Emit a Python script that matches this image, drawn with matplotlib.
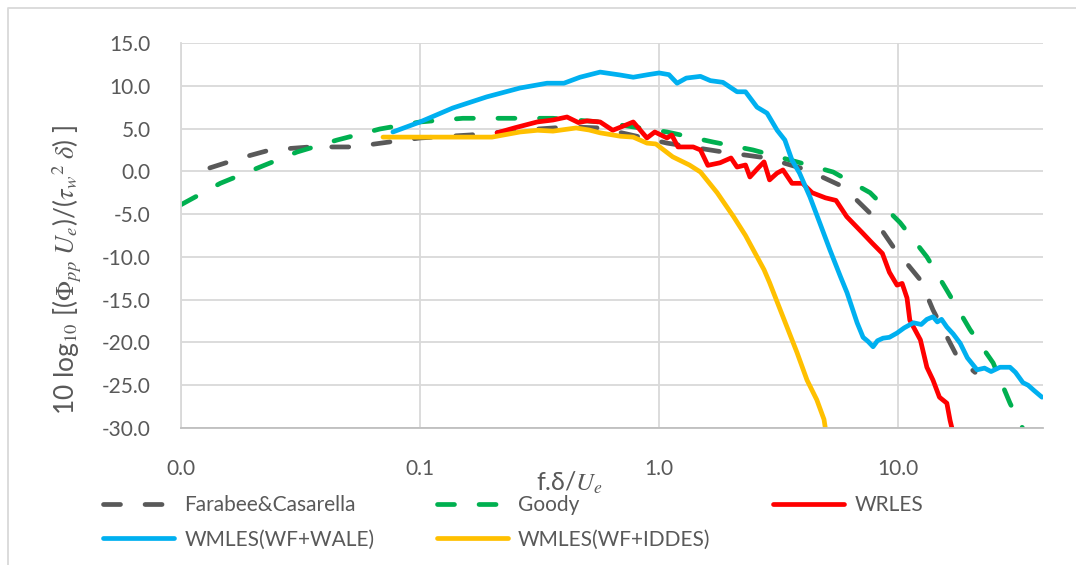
import numpy as np
import matplotlib
matplotlib.use("Agg")
import matplotlib.pyplot as plt
from matplotlib.lines import Line2D
from matplotlib.ticker import FixedLocator, FuncFormatter

plt.rcParams['font.family'] = ['Lato', 'DejaVu Sans']
plt.rcParams['mathtext.fontset'] = 'stix'

# frequency f.delta/Ue and spectrum level for each data set
farabee_x = [0.0132, 0.018, 0.0236, 0.0347, 0.0525, 0.080, 0.1, 0.162, 0.262, 0.42, 0.567,
             1.08, 1.85, 2.83, 4.16, 5.89, 7.64, 9.53, 12.4, 14.0, 17.7, 21.0]
farabee_y = [0.4, 1.6, 2.5, 2.85, 2.85, 3.55, 3.9, 4.25, 4.8, 5.2, 5.07,
             3.3, 2.26, 1.56, 0.16, -1.8, -4.9, -8.8, -12.7, -16.2, -21.7, -23.5]

goody_x = [0.01, 0.0146, 0.0214, 0.0306, 0.045, 0.068, 0.1, 0.151, 0.222, 0.36, 0.567,
           1.08, 1.68, 2.47, 3.78, 5.35, 7.64, 10.2, 13.2, 16.0, 20.0, 25.0, 29.4, 34.0]
goody_y = [-3.9, -1.4, 0.5, 2.26, 3.66, 4.95, 5.77, 6.2, 6.2, 6.2, 5.77,
           4.6, 3.43, 2.5, 1.1, -0.08, -2.5, -6.0, -10.0, -13.9, -18.5, -22.4, -27.1, -30.6]

wrles_x = [0.21, 0.25, 0.309, 0.36, 0.412, 0.46, 0.5, 0.567, 0.64, 0.71, 0.78, 0.89, 0.96,
           1.08, 1.13, 1.2, 1.39, 1.49, 1.6, 1.8, 2.0, 2.12, 2.3, 2.4, 2.6, 2.75, 2.9,
           3.12, 3.3, 3.6, 3.98, 4.37, 4.97, 5.5, 6.1, 7.1, 7.8, 8.6, 9.2, 9.9, 10.4,
           10.9, 11.2, 12.4, 13.2, 14.0, 14.9, 16.0, 16.5, 17.0]
wrles_y = [4.5, 5.1, 5.77, 6.0, 6.35, 5.7, 5.9, 5.77, 4.8, 5.3, 5.77, 3.9, 4.6,
           3.9, 4.25, 2.85, 2.85, 2.5, 0.7, 1.0, 1.56, 0.5, 0.74, -0.66, 0.4, 1.1, -1.0,
           -0.2, 0.16, -1.4, -1.4, -2.5, -3.1, -3.4, -5.3, -7.2, -8.4, -9.6, -11.8, -13.3, -13.1,
           -14.8, -17.4, -19.7, -22.9, -24.4, -26.4, -27.1, -29.1, -30.6]

wale_x = [0.077, 0.1, 0.137, 0.19, 0.262, 0.34, 0.4, 0.467, 0.567, 0.687, 0.78, 0.9, 1.0,
          1.1, 1.19, 1.3, 1.49, 1.64, 1.85, 2.12, 2.3, 2.57, 2.83, 3.12, 3.36, 3.6, 3.87,
          4.28, 4.7, 5.19, 5.74, 6.12, 6.74, 7.14, 7.5, 7.86, 8.2, 8.65, 9.2, 9.9, 10.6,
          11.6, 12.5, 13.2, 14.0, 14.6, 15.2, 16.0, 17.0, 18.2, 19.5, 21.4, 23.0, 24.5,
          26.7, 29.4, 31.0, 33.3, 35.0, 37.0, 40.0]
wale_y = [4.6, 5.77, 7.4, 8.7, 9.74, 10.3, 10.3, 11.0, 11.6, 11.26, 11.0, 11.3, 11.5,
          11.3, 10.3, 10.9, 11.1, 10.6, 10.4, 9.3, 9.3, 7.5, 6.8, 4.8, 3.66, 1.3, -0.2,
          -3.0, -6.0, -9.2, -12.3, -14.2, -17.7, -19.4, -19.9, -20.5, -19.8, -19.5, -19.4, -18.9, -18.3,
          -17.7, -17.9, -17.3, -17.0, -17.6, -17.3, -18.2, -19.0, -20.1, -21.8, -23.2, -23.0, -23.4,
          -22.9, -22.9, -23.5, -24.7, -25.0, -25.6, -26.4]

iddes_x = [0.07, 0.1, 0.15, 0.2, 0.262, 0.31, 0.36, 0.45, 0.51, 0.567, 0.69, 0.78, 0.89,
           0.97, 1.14, 1.34, 1.49, 1.75, 2.05, 2.3, 2.75, 2.9, 3.3, 3.78, 4.16, 4.57, 4.9, 5.0]
iddes_y = [4.0, 4.0, 4.0, 4.0, 4.6, 4.8, 4.7, 5.07, 4.83, 4.5, 4.1, 4.0, 3.3,
           3.2, 1.7, 0.74, -0.08, -2.5, -5.3, -7.5, -11.5, -13.0, -17.0, -21.2, -24.4, -26.7, -29.0, -30.6]

x_ticks = [0.01, 0.1, 1.0, 10.0]
y_ticks = [-30, -25, -20, -15, -10, -5, 0, 5, 10, 15]

txt = '#595959'
grid = '#D9D9D9'

fig = plt.figure(figsize=(10.76, 5.65), dpi=100)
ax = fig.add_axes([181 / 1076, 1 - 428 / 565, 862 / 1076, 385 / 565])

dash = dict(lw=3.4, dashes=(3.6, 5.2), dash_capstyle='round')
solid = dict(lw=3.4, solid_capstyle='round', solid_joinstyle='round')
l_far, = ax.plot(farabee_x, farabee_y, color='#595959', **dash)
l_goo, = ax.plot(goody_x, goody_y, color='#00B050', **dash)
l_wr, = ax.plot(wrles_x, wrles_y, color='#FF0000', **solid)
l_wale, = ax.plot(wale_x, wale_y, color='#00B0F0', **solid)
l_idd, = ax.plot(iddes_x, iddes_y, color='#FFC000', **solid)

ax.set_xscale('log')
ax.set_xlim(0.01, 40.4)
ax.set_ylim(-30, 15)
ax.xaxis.set_major_locator(FixedLocator(x_ticks))
ax.xaxis.set_minor_locator(FixedLocator([]))
ax.xaxis.set_major_formatter(FuncFormatter(lambda v, p: f"{v:.1f}"))
ax.set_yticks(y_ticks)
ax.yaxis.set_major_formatter(FuncFormatter(lambda v, p: f"{v:.1f}"))
ax.tick_params(length=0, labelsize=15, colors=txt)
ax.tick_params(axis='y', pad=22)
ax.tick_params(axis='x', pad=22)
ax.grid(True, color=grid, lw=1.3)
ax.set_axisbelow(True)
for s in ['top', 'right']:
    ax.spines[s].set_visible(False)
ax.spines['left'].set_color(grid)
ax.spines['left'].set_linewidth(1.3)
ax.spines['bottom'].set_color('#BFBFBF')
ax.spines['bottom'].set_linewidth(1.3)

fig.text(570 / 1076, 1 - 483 / 565, r"f.δ/$U_e$", ha='center', va='center',
         fontsize=18, color=txt)
fig.text(67 / 1076, 1 - 270 / 565,
         r"10 log$_{10}$ [($\Phi_{pp}\ U_e$)/($\tau_w{}^{2}\ \delta$) ]",
         rotation=90, ha='center', va='center', fontsize=19, color=txt)

fig.legend([l_far, l_wale, l_goo, l_idd, l_wr],
           ['Farabee&Casarella', 'WMLES(WF+WALE)', 'Goody', 'WMLES(WF+IDDES)', 'WRLES'],
           ncol=3, loc='upper left', bbox_to_anchor=(103 / 1076, 1 - 495 / 565),
           frameon=False, fontsize=15, labelcolor=txt, handlelength=3.4,
           handletextpad=0.5, columnspacing=3.0, labelspacing=0.7,
           borderpad=0, borderaxespad=0)

# chart border
fig.add_artist(Line2D([8 / 1076, 8 / 1076, 1.0], [0.0, 1 - 8 / 565, 1 - 8 / 565],
                      transform=fig.transFigure, color=grid, lw=1.3))

fig.savefig('out.png', dpi=100)
